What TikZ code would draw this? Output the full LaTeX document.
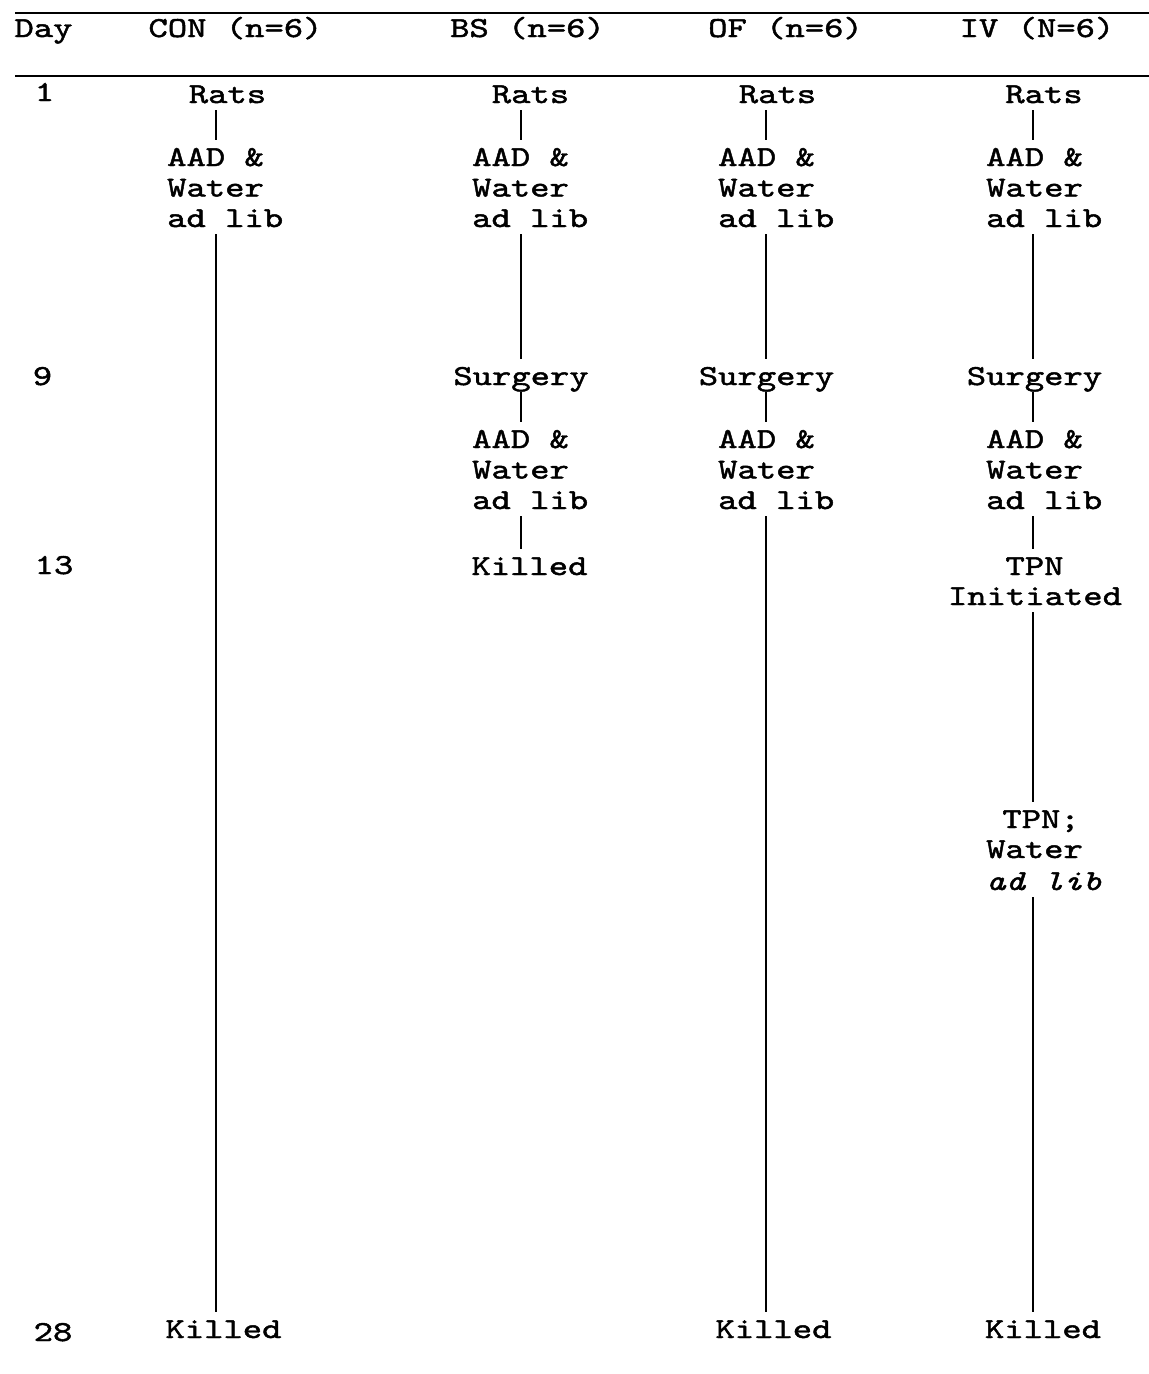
\documentclass[tikz,border=0pt]{standalone}
\usepackage{fontspec}
\setmonofont{lmmono10-regular.otf}[ItalicFont=lmmono10-italic.otf, FakeStretch=1.27, FakeBold=1.6]
\begin{document}
\begin{tikzpicture}[x=1pt,y=-1pt,
  txt/.style={inner sep=0pt, text height=18pt, text depth=5pt, font=\ttfamily\fontsize{29}{31}\selectfont},
  lbl/.style={txt, anchor=base},
  blk/.style={txt, anchor=base west},
  conn/.style={line width=1.8pt, shorten <=2pt, shorten >=8pt},
  rulel/.style={line width=2.6pt}]
\fill[white] (0,0) rectangle (1149,1374);
\useasboundingbox (0,0) rectangle (1149,1374);

% rules
\coordinate (r1a) at (15,13);  \coordinate (r1b) at (1149,13);
\coordinate (r2a) at (15,76);  \coordinate (r2b) at (1149,76);
\draw[rulel] (r1a) -- (r1b);
\draw[rulel] (r2a) -- (r2b);

% header
\node[lbl] (hDay) at (43.5,37) {Day};
\node[lbl] (hCON) at (235.5,37) {CON (n=6)};
\node[lbl] (hBS)  at (527.5,37) {BS (n=6)};
\node[lbl] (hOF)  at (785.5,37) {OF (n=6)};
\node[lbl] (hIV)  at (1037,37) {IV (N=6)};

% days
\node[lbl] (d1)  at (44.5,101) {1};
\node[lbl] (d9)  at (42.5,385) {9};
\node[lbl] (d13) at (54,574) {13};
\node[lbl] (d28) at (53,1341) {28};

% CON
\node[lbl] (conRats) at (227.5,103) {Rats};
\node[blk] (conA1) at (167,166) {AAD \&};
\node[blk] (conA2) at (167,196.5) {Water};
\node[blk] (conA3) at (167,227) {ad lib};
\node[lbl] (conKill) at (223.5,1338) {Killed};

% BS
\node[lbl] (bsRats) at (530.5,103) {Rats};
\node[blk] (bsA1) at (472,166) {AAD \&};
\node[blk] (bsA2) at (472,196.5) {Water};
\node[blk] (bsA3) at (472,227) {ad lib};
\node[lbl] (bsSurg) at (521,385) {Surgery};
\node[blk] (bsB1) at (472,448) {AAD \&};
\node[blk] (bsB2) at (472,478.5) {Water};
\node[blk] (bsB3) at (472,509) {ad lib};
\node[lbl] (bsKill) at (529.5,575) {Killed};

% OF
\node[lbl] (ofRats) at (777.5,103) {Rats};
\node[blk] (ofA1) at (718,166) {AAD \&};
\node[blk] (ofA2) at (718,196.5) {Water};
\node[blk] (ofA3) at (718,227) {ad lib};
\node[lbl] (ofSurg) at (766.5,385) {Surgery};
\node[blk] (ofB1) at (718,448) {AAD \&};
\node[blk] (ofB2) at (718,478.5) {Water};
\node[blk] (ofB3) at (718,509) {ad lib};
\node[lbl] (ofKill) at (773.5,1338) {Killed};

% IV
\node[lbl] (ivRats) at (1044,103) {Rats};
\node[blk] (ivA1) at (986,166) {AAD \&};
\node[blk] (ivA2) at (986,196.5) {Water};
\node[blk] (ivA3) at (986,227) {ad lib};
\node[lbl] (ivSurg) at (1034.5,385) {Surgery};
\node[blk] (ivB1) at (986,448) {AAD \&};
\node[blk] (ivB2) at (986,478.5) {Water};
\node[blk] (ivB3) at (986,509) {ad lib};
\node[lbl] (ivTPN) at (1034.5,575) {TPN};
\node[lbl] (ivInit) at (1035,605) {Initiated};
\node[lbl] (ivT1) at (1041,828) {TPN;};
\node[blk] (ivT2) at (986,858) {Water};
\node[blk] (ivT3) at (986,890) {\itshape ad lib};
\node[lbl] (ivKill) at (1043,1338) {Killed};

% connector x positions
\coordinate (xcon) at (216,0);
\coordinate (xbs) at (521,0);
\coordinate (xof) at (766,0);
\coordinate (xiv) at (1033,0);

% CON connectors
\draw[conn] (conRats.south -| xcon) -- (conA1.north -| xcon);
\draw[conn] (conA3.south -| xcon) -- (conKill.north -| xcon);
% BS connectors
\draw[conn] (bsRats.south -| xbs) -- (bsA1.north -| xbs);
\draw[conn] (bsA3.south -| xbs) -- (bsSurg.north -| xbs);
\draw[conn] (bsSurg.south -| xbs) -- (bsB1.north -| xbs);
\draw[conn] (bsB3.south -| xbs) -- (bsKill.north -| xbs);
% OF connectors
\draw[conn] (ofRats.south -| xof) -- (ofA1.north -| xof);
\draw[conn] (ofA3.south -| xof) -- (ofSurg.north -| xof);
\draw[conn] (ofSurg.south -| xof) -- (ofB1.north -| xof);
\draw[conn] (ofB3.south -| xof) -- (ofKill.north -| xof);
% IV connectors
\draw[conn] (ivRats.south -| xiv) -- (ivA1.north -| xiv);
\draw[conn] (ivA3.south -| xiv) -- (ivSurg.north -| xiv);
\draw[conn] (ivSurg.south -| xiv) -- (ivB1.north -| xiv);
\draw[conn] (ivB3.south -| xiv) -- (ivTPN.north -| xiv);
\draw[conn] (ivInit.south -| xiv) -- (ivT1.north -| xiv);
\draw[conn] (ivT3.south -| xiv) -- (ivKill.north -| xiv);
\end{tikzpicture}
\end{document}
